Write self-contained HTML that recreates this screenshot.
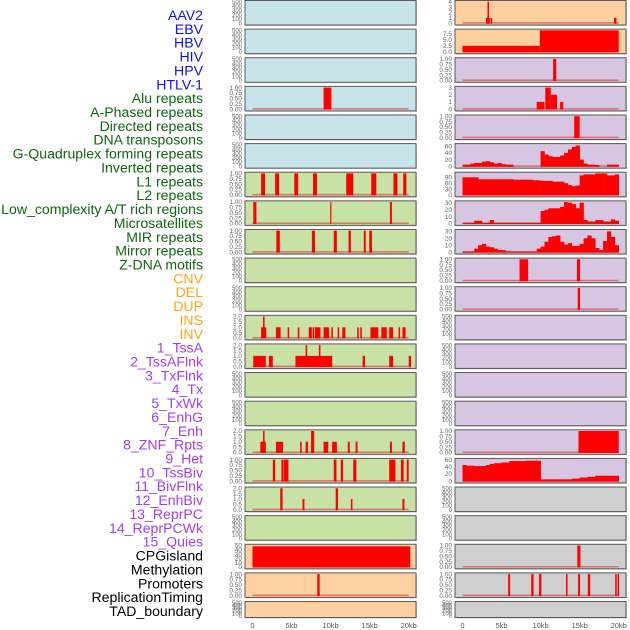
<!DOCTYPE html>
<html><head><meta charset="utf-8"><style>
html,body{margin:0;padding:0;background:#fff;}
#wrap{position:relative;width:630px;height:630px;overflow:hidden;font-family:"Liberation Sans",sans-serif;}
</style></head><body>
<div id="wrap">
<svg id="chart" width="630" height="630" xmlns="http://www.w3.org/2000/svg"></svg>
</div>
<script>
// ---------- data ----------
const trackLabels = ["AAV2","EBV","HBV","HIV","HPV","HTLV-1","Alu repeats","A-Phased repeats","Directed repeats","DNA transposons","G-Quadruplex forming repeats","Inverted repeats","L1 repeats","L2 repeats","Low_complexity A/T rich regions","Microsatellites","MIR repeats","Mirror repeats","Z-DNA motifs","CNV","DEL","DUP","INS","INV","1_TssA","2_TssAFlnk","3_TxFlnk","4_Tx","5_TxWk","6_EnhG","7_Enh","8_ZNF_Rpts","9_Het","10_TssBiv","11_BivFlnk","12_EnhBiv","13_ReprPC","14_ReprPCWk","15_Quies","CPGisland","Methylation","Promoters","ReplicationTiming","TAD_boundary"];
const labelGroups = ["v","v","v","v","v","v","r","r","r","r","r","r","r","r","r","r","r","r","r","c","c","c","c","c","h","h","h","h","h","h","h","h","h","h","h","h","h","h","h","o","o","o","o","o"];
const xTickLabels = ["0","5kb","10kb","15kb","20kb"];
const xTickValues = [0,5,10,15,20];
// segment series: [startKb, endKb, value]
const segR1 = [[3.2,3.4,4],[3.0,3.5,1],[3.6,3.8,1],[19.4,19.7,1]];
const segR2 = [[0,9.9,2.5],[9.9,20,9]];
const segR3 = [[11.6,12.0,1]];
const segL4 = [[9.1,10.1,1]];
const segR4 = [[9.5,10.5,1],[10.6,11.3,3],[11.3,12.1,2],[12.5,12.9,1]];
const segR5 = [[14.3,15.0,1]];
const segL7 = [[1.1,1.6,1],[2.9,3.4,1],[5.35,5.85,1],[7.75,8.25,1],[12.0,12.9,1],[15.2,15.85,1],[18.05,18.55,1],[19.3,19.7,1]];
const segL8 = [[0.1,0.5,1],[9.95,10.1,1],[17.6,17.85,1]];
const segL9 = [[3.05,3.5,1],[7.6,8.0,1],[10.4,10.8,1],[12.3,12.6,1],[14.25,14.5,1],[14.95,15.3,1]];
const segR10 = [[7.3,8.4,1],[14.65,15.05,1]];
const segR11 = [[14.75,15.05,1]];
const segL12 = [[1.1,1.75,1],[1.35,1.55,2],[3.0,3.6,1],[4.5,4.7,1],[5.8,6.0,1],[7.2,7.6,1],[7.7,7.9,1],[8.0,8.7,1],[9.1,9.8,1],[10.1,10.3,1],[10.9,11.1,1],[11.5,11.9,1],[13.4,13.6,1],[13.8,14.0,1],[15.1,16.1,1],[16.5,17.2,1],[17.5,18.0,1],[18.7,18.9,1],[19.2,19.6,1]];
const segL13 = [[0.1,1.7,1],[2.1,2.6,1],[5.5,10.2,1],[6.8,7.0,2],[8.5,8.7,2],[14.1,14.4,1],[17.5,18.0,1],[20.0,20.3,1]];
const segL16 = [[1.0,1.7,1],[1.35,1.55,2],[3.0,3.9,1],[6.1,6.3,1],[6.8,7.1,1],[7.5,7.9,2],[9.1,9.7,1],[10.2,10.8,1],[12.2,12.45,1],[13.2,13.45,1],[17.6,17.85,1],[19.2,19.5,1]];
const segR16 = [[14.85,20,1]];
const segL17 = [[2.6,2.9,1],[3.7,3.95,1],[4.0,4.6,1],[10.4,10.75,1],[11.3,11.6,1],[12.9,13.3,1],[17.5,18.3,1],[19.0,19.35,1],[19.75,20.0,1]];
const segL18 = [[3.55,3.85,2],[6.4,6.65,1],[10.65,10.95,2],[12.6,12.8,1],[19.2,19.45,1]];
const segL20 = [[0,20.2,48]];
const segR20 = [[14.7,15.1,1]];
const segL21 = [[8.3,8.6,1]];
const segR21 = [[5.85,6.1,1],[8.8,9.1,1],[9.8,10.1,1],[13.25,13.45,1],[14.8,15.05,1],[16.05,16.35,1],[19.55,19.75,1],[19.85,20.05,1]];
// histogram series: 40 bins of 0.5kb
const histR6 = [5,5,8,10,10,14,15,12,8,10,6,5,5,0,0,0,0,0,0,0,45,35,30,28,28,32,40,50,58,62,20,8,5,5,4,0,0,5,5,5];
const histR7 = [90,90,90,90,80,80,80,80,80,80,80,80,80,78,78,78,78,78,75,75,72,72,72,68,68,68,60,50,45,48,100,105,105,105,110,110,110,100,100,105];
const histR8 = [1,1,1,4,4,1,1,5,1,1,1,1,1,1,1,1,1,1,1,1,18,20,22,22,22,24,31,30,28,22,30,5,3,3,5,5,3,3,6,4];
const histR9 = [1,1,1,5,10,12,8,7,5,3,3,1,1,1,1,1,1,1,1,5,8,15,22,23,24,15,11,13,9,9,12,20,24,20,6,3,16,30,22,10];
const histR17 = [45,43,43,42,42,42,45,48,50,50,52,52,56,56,56,56,57,57,57,57,5,5,5,5,5,5,5,5,7,7,10,10,12,12,15,15,15,15,15,15];
// tick label sets
const ticks500 = ["0","100","200","300","400","500"];
const ticks1 = ["0.00","0.25","0.50","0.75","1.00"];
const ticks2 = ["0.0","0.5","1.0","1.5","2.0"];
const ticks3 = ["0","1","2","3"];
const ticks4 = ["0","1","2","3","4"];
const ticks9 = ["0.0","2.5","5.0","7.5"];
const ticks60 = ["0","20","40","60"];
const ticks90 = ["0","30","60","90"];
const ticks30 = ["0","10","20","30"];
const ticks50 = ["0","10","20","30","40","50"];

const C = {b:"#c7e4eb",o:"#fecf9f",g:"#c8e1a5",p:"#d6c6e2",y:"#cfcfcf"};
const E = t=>({bg:C[t],max:500,ticks:ticks500});
const rows = [
 [E("b"),{bg:C.o,max:4,ticks:ticks4,seg:segR1}],
 [E("b"),{bg:C.o,max:9,ticks:ticks9,seg:segR2}],
 [E("b"),{bg:C.p,max:1,ticks:ticks1,seg:segR3}],
 [{bg:C.b,max:1,ticks:ticks1,seg:segL4},{bg:C.p,max:3,ticks:ticks3,seg:segR4}],
 [E("b"),{bg:C.p,max:1,ticks:ticks1,seg:segR5}],
 [E("b"),{bg:C.p,max:64,ticks:ticks60,hist:histR6}],
 [{bg:C.g,max:1,ticks:ticks1,seg:segL7},{bg:C.p,max:110,ticks:ticks90,hist:histR7}],
 [{bg:C.g,max:1,ticks:ticks1,seg:segL8},{bg:C.p,max:31,ticks:ticks30,hist:histR8}],
 [{bg:C.g,max:1,ticks:ticks1,seg:segL9},{bg:C.p,max:31,ticks:ticks30,hist:histR9}],
 [E("g"),{bg:C.p,max:1,ticks:ticks1,seg:segR10}],
 [E("g"),{bg:C.p,max:1,ticks:ticks1,seg:segR11}],
 [{bg:C.g,max:2,ticks:ticks2,seg:segL12},E("p")],
 [{bg:C.g,max:2,ticks:ticks2,seg:segL13},E("p")],
 [E("g"),E("p")],
 [E("g"),E("p")],
 [{bg:C.g,max:2,ticks:ticks2,seg:segL16},{bg:C.p,max:1,ticks:ticks1,seg:segR16}],
 [{bg:C.g,max:1,ticks:ticks1,seg:segL17},{bg:C.p,max:60,ticks:ticks60,hist:histR17}],
 [{bg:C.g,max:2,ticks:ticks2,seg:segL18},E("y")],
 [E("g"),E("y")],
 [{bg:C.o,max:50,ticks:ticks50,seg:segL20},{bg:C.y,max:1,ticks:ticks1,seg:segR20}],
 [{bg:C.o,max:1,ticks:ticks1,seg:segL21},{bg:C.y,max:1,ticks:ticks1,seg:segR21}],
 [E("o"),E("y")]
];

// ---------- drawing ----------
const NS="http://www.w3.org/2000/svg";
const svg=document.getElementById("chart");
function mk(tag,attrs,parent){const e=document.createElementNS(NS,tag);for(const k in attrs)e.setAttribute(k,attrs[k]);(parent||svg).appendChild(e);return e;}
const groupColor={v:"#1010f0",r:"#116611",c:"#ffa51a",h:"#a040f0",o:"#000000"};
const LBL_STEP=13.86;
trackLabels.forEach((t,i)=>{
  const el=mk("text",{x:203,y:15+i*LBL_STEP+5,"text-anchor":"end","font-size":"14.1",fill:groupColor[labelGroups[i]],"font-family":"Liberation Sans, sans-serif"});
  el.textContent=t;
  
  
});
const cols=[{fx:245,fw:171,x0:252.5},{fx:455,fw:171,x0:462.5}];
const PXKB=7.81;
const ROW_PITCH=28.62;
function xScale(c,kb){return cols[c].x0+kb*PXKB;}
rows.forEach((row,r)=>{
  const top=r*ROW_PITCH+0.5, h=(r===21?16:24.5);
  row.forEach((p,c)=>{
    const g=mk("g",{});
    
    
    const col=cols[c];
    mk("rect",{x:col.fx+1,y:top+1,width:col.fw,height:h,fill:"#9a9a9a",opacity:"0.5"},g);
    mk("rect",{x:col.fx,y:top,width:col.fw,height:h,fill:p.bg,stroke:"#5a5a5a","stroke-width":"1"},g);
    const y0=top+h-1.8, y1=top+1.2;
    const yScale=v=>y0-(v/p.max)*(y0-y1);
    const tickVals=p.ticks.map(Number);
    p.ticks.forEach((t,k)=>{
      const tv=tickVals[k];
      const yy=yScale(tv);
      const te=mk("text",{x:col.fx-3,y:yy+2.2,"text-anchor":"end","font-size":(p.max===500?"6":"6.5"),fill:"#666","font-family":"Liberation Sans, sans-serif"},g);
      te.textContent=t;
      
      
    });
    if(p.seg||p.hist){
      const base=mk("rect",{x:xScale(c,0),y:y0-1,width:20*PXKB,height:1.5,fill:"#e03030",opacity:"0.6"},g);
      
      
    }
    if(p.seg){
      p.seg.forEach(s=>{
        const xa=xScale(c,s[0]), xb=xScale(c,s[1]);
        const b=mk("rect",{x:xa,y:yScale(s[2]),width:Math.max(1,xb-xa),height:y0-yScale(s[2])+0.5,fill:"#ff0000"},g);
        
        
      });
    }
    if(p.hist){
      p.hist.forEach((v,k)=>{
        if(v<=0)return;
        const xa=xScale(c,k*0.5), xb=xScale(c,(k+1)*0.5);
        const b=mk("rect",{x:xa,y:yScale(v),width:xb-xa+0.3,height:y0-yScale(v)+0.5,fill:"#ff0000"},g);
        
        
      });
    }
  });
});
[0,1].forEach(c=>{
  xTickValues.forEach((v,k)=>{
    const te=mk("text",{x:xScale(c,v),y:628,"text-anchor":"middle","font-size":"7.5",fill:"#555","font-family":"Liberation Sans, sans-serif"});
    te.textContent=xTickLabels[k];
    
    
  });
});
</script>
</body></html>
